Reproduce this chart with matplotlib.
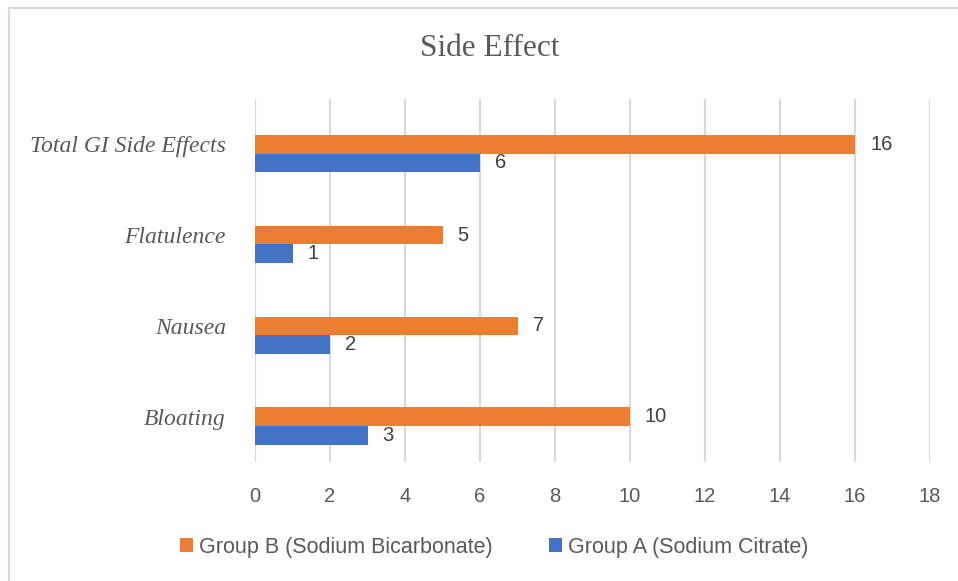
import matplotlib
matplotlib.use("Agg")
import matplotlib.pyplot as plt
from matplotlib.patches import Rectangle
import numpy as np

categories = ["Bloating", "Nausea", "Flatulence", "Total GI Side Effects"]
group_b = [10, 7, 5, 16]
group_a = [3, 2, 1, 6]
label_b = "Group B (Sodium Bicarbonate)"
label_a = "Group A (Sodium Citrate)"
xticks = list(range(0, 20, 2))

orange = "#ED7D31"
blue = "#4472C4"
grey_text = "#595959"
sans = ["Liberation Sans Narrow", "Liberation Sans", "DejaVu Sans"]
serif = ["Liberation Serif", "DejaVu Serif"]

fig = plt.figure(figsize=(9.58, 5.81), dpi=100)
# chart border (right and bottom edges fall outside the picture)
fig.patches.append(Rectangle((9 / 958, -10 / 581), 960 / 958, 583 / 581,
                             transform=fig.transFigure, fill=False,
                             edgecolor="#D9D9D9", linewidth=1.5))

ax = fig.add_axes([255 / 958, 1 - 462 / 581, 675 / 958, 363 / 581])
y = np.arange(len(categories))
h = 0.205
bb = ax.barh(y, group_b, height=h, color=orange, label=label_b, zorder=3)
ba = ax.barh(y - h, group_a, height=h, color=blue, label=label_a, zorder=3)

for bars, vals in ((bb, group_b), (ba, group_a)):
    for rect, v in zip(bars, vals):
        ax.text(v + 0.4, rect.get_y() + rect.get_height() / 2, str(v),
                va="center", ha="left", fontsize=14.5, color="#404040", family=sans)

ax.set_xlim(0, 18)
ax.set_ylim(-0.5, len(categories) - 0.5)
ax.set_xticks(xticks)
ax.set_xticklabels([str(t) for t in xticks], fontsize=14.5, color=grey_text, family=sans)
ax.set_yticks(y)
ax.set_yticklabels(categories, fontsize=17, color=grey_text, family=serif, style="italic")
ax.tick_params(axis="x", length=0, pad=18)
ax.tick_params(axis="y", length=0, pad=21)
ax.grid(axis="x", color="#D9D9D9", linewidth=1.5, zorder=0)
for s in ax.spines.values():
    s.set_visible(False)

fig.text(490 / 958, 1 - 49 / 581, "Side Effect", ha="center", va="center",
         fontsize=22.5, color=grey_text, family=serif)

leg = fig.legend(handles=[bb, ba], labels=[label_b, label_a], loc="center",
                 bbox_to_anchor=(494 / 958, 1 - 547 / 581), ncol=2, frameon=False,
                 prop={"family": sans, "size": 15.5}, handlelength=0.6,
                 handleheight=0.6, handletextpad=0.3, columnspacing=2.6)
for t in leg.get_texts():
    t.set_color(grey_text)

fig.savefig("out.png", dpi=100)
